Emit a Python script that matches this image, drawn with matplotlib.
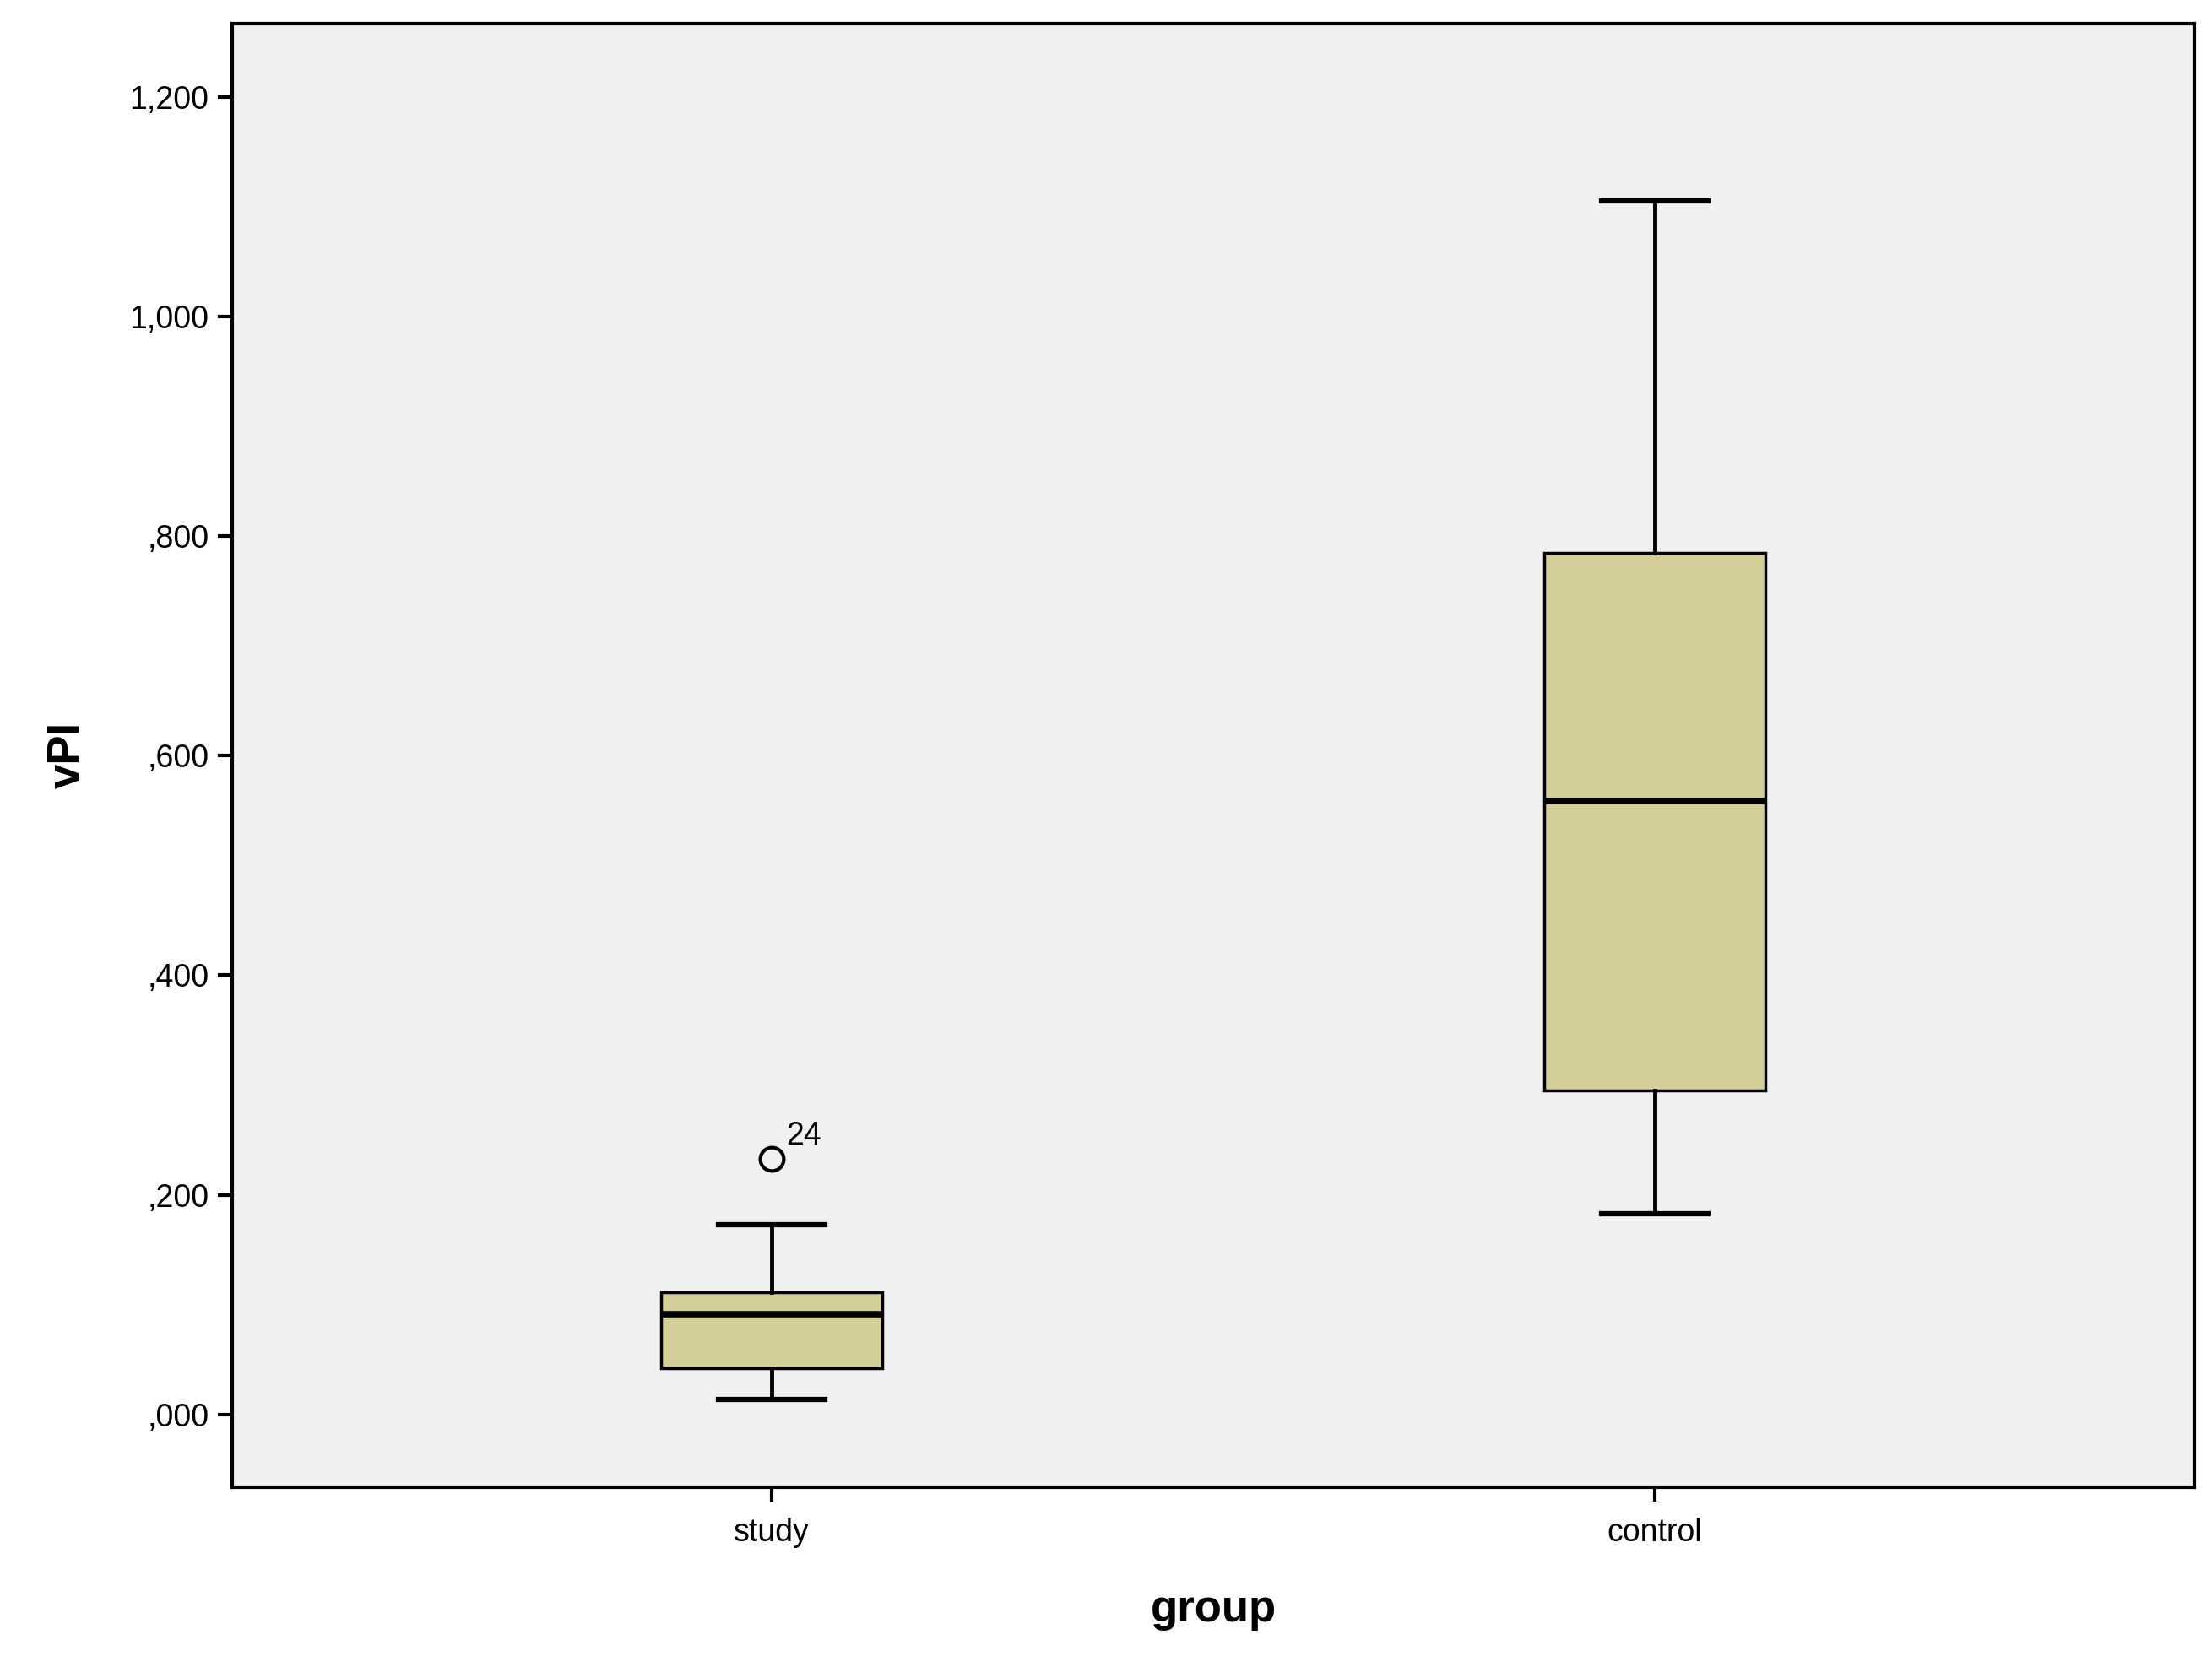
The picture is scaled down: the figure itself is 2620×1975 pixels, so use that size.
import matplotlib
matplotlib.use("Agg")
import matplotlib.pyplot as plt

plt.rcParams["font.family"] = ["Liberation Sans", "DejaVu Sans"]

groups = ["study", "control"]
whislo = [0.014, 0.183]
q1 = [0.042, 0.295]
med = [0.091, 0.559]
q3 = [0.111, 0.785]
whishi = [0.173, 1.105]
fliers = [[0.233], []]
flier_ids = [["24"], []]

yticks = [0.0, 0.2, 0.4, 0.6, 0.8, 1.0, 1.2]
ytick_labels = [",000", ",200", ",400", ",600", ",800", "1,000", "1,200"]

stats = []
for i, g in enumerate(groups):
    stats.append(dict(label=g, whislo=whislo[i], q1=q1[i], med=med[i], q3=q3[i],
                      whishi=whishi[i], fliers=fliers[i]))

fig = plt.figure(figsize=(26.2, 19.75), dpi=100)
ax = fig.add_axes([0.105, 0.108, 0.887, 0.878])
ax.set_facecolor("#f0f0f0")

ax.bxp(stats, positions=[1, 2], widths=0.25, patch_artist=True,
       boxprops=dict(facecolor="#d4ce98", edgecolor="black", linewidth=2.5),
       medianprops=dict(color="black", linewidth=5.5),
       whiskerprops=dict(color="black", linewidth=3.5),
       capprops=dict(color="black", linewidth=4.5),
       capwidths=0.12,
       flierprops=dict(marker="o", markerfacecolor="none", markeredgecolor="black",
                       markersize=20, markeredgewidth=3))

for i in range(len(groups)):
    for v, lab in zip(fliers[i], flier_ids[i]):
        ax.annotate(lab, (i + 1, v), xytext=(12, 12), textcoords="offset points",
                    fontsize=27)

ax.set_xlim(0.389, 2.611)
ax.set_ylim(-0.066, 1.267)
ax.set_yticks(yticks)
ax.set_yticklabels(ytick_labels)
ax.set_xticks([1, 2])
ax.set_xticklabels(groups)
ax.tick_params(labelsize=27, width=3, length=12, pad=8)
ax.tick_params(axis="x", pad=14)
for s in ax.spines.values():
    s.set_linewidth(3)
ax.set_xlabel("group", fontsize=38, fontweight="bold", labelpad=35)
ax.set_ylabel("vPI", fontsize=38, fontweight="bold", labelpad=35)

fig.savefig("out.png", dpi=100)
